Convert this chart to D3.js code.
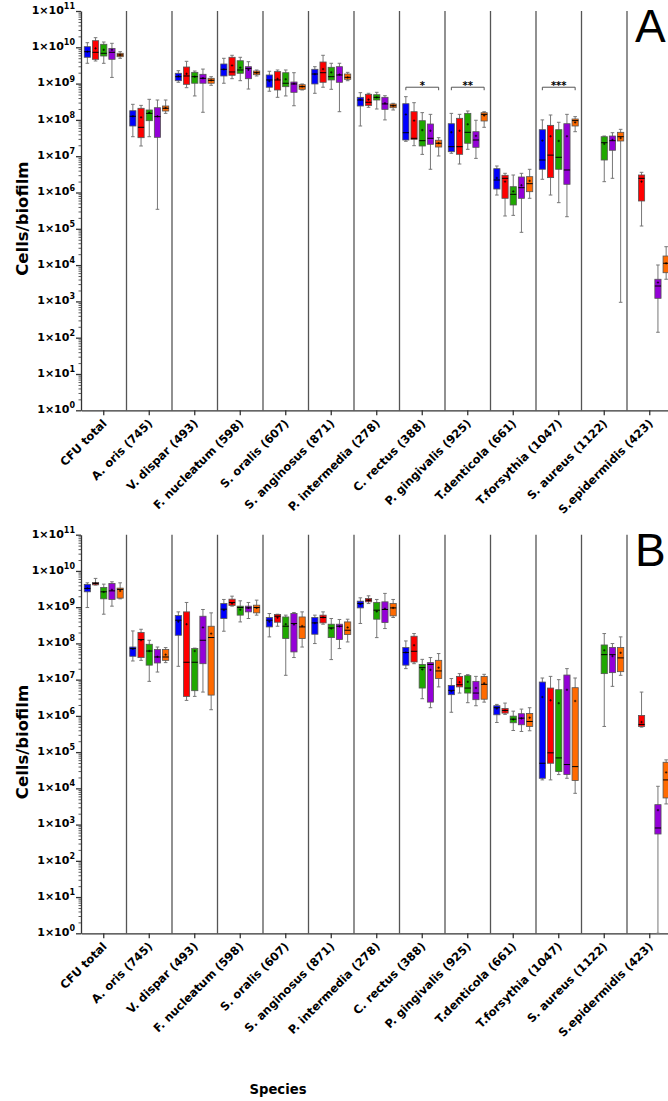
<!DOCTYPE html>
<html>
<head>
<meta charset="utf-8">
<script src="https://cdn.jsdelivr.net/npm/d3@7/dist/d3.min.js"></script>
<style>
body { margin: 0; background: #fff; }
svg { display: block; font-family: "DejaVu Sans", sans-serif; }
</style>
</head>
<body>
<div id="chart"></div>
<script>
const species = ["CFU total", "A. oris (745)", "V. dispar (493)", "F. nucleatum (598)", "S. oralis (607)",
    "S. anginosus (871)", "P. intermedia (278)", "C. rectus (388)", "P. gingivalis (925)", "T.denticola (661)",
    "T.forsythia (1047)", "S. aureus (1122)", "S.epidermidis (423)"];
const groups = ["blue", "red", "green", "purple", "orange"];
const groupColors = ["#0000ff", "#ff0000", "#1fa800", "#9400d8", "#ff6a00"];
const yTickExp = [0, 1, 2, 3, 4, 5, 6, 7, 8, 9, 10, 11];

// log10(cells/biofilm) per box: [min, q1, median, q3, max, mean]; null = no box
const aBlue = [
    [9.56, 9.725, 9.879, 10.017, 10.127, 9.88], [7.537, 7.832, 8.10, 8.253, 8.429, 8.10],
    [9.036, 9.08, 9.19, 9.284, 9.355, 9.20], [9.01, 9.21, 9.394, 9.54, 9.697, 9.39],
    [8.79, 8.90, 9.10, 9.237, 9.34, 9.07], [8.733, 8.99, 9.264, 9.394, 9.466, 9.26],
    [7.832, 8.383, 8.548, 8.622, 8.75, 8.56], [7.41, 7.446, 7.647, 8.446, 8.64, 8.15],
    [7.08, 7.124, 7.262, 7.895, 8.18, 7.66], [5.93, 6.096, 6.344, 6.656, 6.73, 6.40],
    [6.364, 6.64, 6.895, 7.73, 8.0, 7.43], null, null];
const aRed = [
    [9.623, 9.669, 9.862, 10.182, 10.265, 9.97], [7.281, 7.51, 7.796, 8.32, 8.40, 8.07],
    [8.887, 8.98, 9.21, 9.457, 9.614, 9.27], [9.135, 9.229, 9.32, 9.725, 9.78, 9.50],
    [8.622, 8.824, 9.10, 9.33, 9.375, 9.13], [8.90, 9.036, 9.30, 9.595, 9.78, 9.40],
    [8.347, 8.40, 8.485, 8.705, 8.733, 8.56], [7.29, 7.465, 7.493, 8.226, 8.474, 7.98],
    [6.785, 7.052, 7.262, 8.044, 8.153, 7.70], [5.353, 5.84, 6.391, 6.474, 6.529, 6.30],
    [5.93, 6.41, 7.03, 7.85, 8.135, 7.55], null,
    [5.077, 5.766, 6.39, 6.482, 6.556, 6.30]];
const aGreen = [
    [9.559, 9.76, 9.835, 10.083, 10.146, 9.93], [7.537, 7.978, 8.18, 8.273, 8.567, 8.20],
    [8.66, 9.01, 9.19, 9.31, 9.347, 9.19], [9.08, 9.284, 9.375, 9.63, 9.725, 9.44],
    [8.66, 8.915, 9.01, 9.30, 9.375, 9.12], [8.843, 9.10, 9.19, 9.449, 9.56, 9.31],
    [8.30, 8.548, 8.622, 8.694, 8.76, 8.62], [7.05, 7.281, 7.427, 7.978, 8.20, 7.72],
    [7.19, 7.356, 7.658, 8.18, 8.245, 7.88], [5.37, 5.656, 5.95, 6.16, 6.482, 6.03],
    [5.72, 6.64, 6.97, 7.73, 7.934, 7.42], [6.298, 6.895, 7.372, 7.537, 7.556, 7.34], null];
const aPurple = [
    [9.17, 9.669, 9.862, 9.97, 10.11, 9.93], [5.537, 7.52, 8.09, 8.336, 8.548, 8.10],
    [8.21, 9.01, 9.146, 9.256, 9.40, 9.15], [8.85, 9.135, 9.42, 9.466, 9.603, 9.38],
    [8.39, 8.76, 8.99, 9.044, 9.30, 9.00], [8.226, 9.036, 9.237, 9.466, 9.56, 9.25],
    [8.0, 8.29, 8.44, 8.622, 8.667, 8.46], [6.64, 7.328, 7.493, 7.887, 8.153, 7.70],
    [6.94, 7.245, 7.446, 7.675, 7.99, 7.56], [4.903, 5.84, 6.133, 6.427, 6.529, 6.20],
    [5.333, 6.226, 6.62, 7.895, 8.153, 7.55], [6.391, 7.163, 7.427, 7.556, 7.647, 7.45],
    [2.15, 3.085, 3.424, 3.61, 4.003, 3.52]];
const aOrange = [
    [9.697, 9.741, 9.788, 9.835, 9.879, 9.79], [8.18, 8.245, 8.32, 8.383, 8.548, 8.33],
    [8.953, 9.01, 9.09, 9.146, 9.19, 9.09], [9.21, 9.245, 9.30, 9.347, 9.375, 9.30],
    [8.824, 8.843, 8.915, 8.97, 8.99, 8.92], [9.08, 9.118, 9.173, 9.264, 9.31, 9.17],
    [8.273, 8.336, 8.39, 8.438, 8.457, 8.39], [7.006, 7.253, 7.356, 7.44, 7.51, 7.36],
    [7.796, 7.97, 8.153, 8.198, 8.226, 8.12], [5.84, 6.022, 6.243, 6.436, 6.639, 6.32],
    [7.675, 7.832, 7.98, 8.025, 8.09, 7.93], [2.975, 7.419, 7.537, 7.658, 7.74, 7.50],
    [3.61, 3.79, 4.05, 4.25, 4.507, 4.05]];

const bBlue = [
    [8.99, 9.424, 9.517, 9.628, 9.672, 9.52], [7.515, 7.645, 7.857, 7.90, 8.344, 7.85],
    [7.368, 8.225, 8.64, 8.77, 8.87, 8.60], [8.336, 8.687, 8.945, 9.10, 9.213, 8.92],
    [8.18, 8.455, 8.64, 8.715, 8.825, 8.60], [7.996, 8.253, 8.566, 8.715, 8.78, 8.56],
    [8.55, 8.98, 9.10, 9.166, 9.258, 9.08], [7.304, 7.40, 7.747, 7.885, 8.068, 7.75],
    [6.10, 6.585, 6.704, 6.842, 7.03, 6.68], [5.818, 6.03, 6.225, 6.28, 6.317, 6.20],
    [4.234, 4.278, 4.693, 6.934, 7.045, 6.52], null, null];
const bRed = [
    [9.61, 9.617, 9.655, 9.683, 9.794, 9.66], [7.533, 7.608, 8.106, 8.30, 8.39, 8.09],
    [6.427, 6.538, 7.48, 8.87, 9.13, 8.53], [9.028, 9.047, 9.13, 9.221, 9.304, 9.10],
    [8.474, 8.585, 8.75, 8.80, 8.806, 8.71], [8.53, 8.566, 8.715, 8.78, 8.87, 8.72],
    [9.10, 9.147, 9.194, 9.24, 9.313, 9.19], [7.44, 7.487, 7.783, 8.198, 8.272, 7.95],
    [6.63, 6.80, 6.86, 7.09, 7.166, 6.93], [6.04, 6.076, 6.15, 6.206, 6.353, 6.15],
    [4.234, 4.693, 4.98, 6.768, 7.09, 6.43], null,
    [5.69, 5.708, 5.764, 6.013, 6.657, 5.83]];
const bGreen = [
    [8.806, 9.23, 9.424, 9.545, 9.636, 9.42], [6.953, 7.40, 7.79, 7.976, 8.087, 7.79],
    [6.538, 6.695, 7.48, 7.857, 7.87, 7.79], [8.593, 8.78, 8.99, 9.028, 9.175, 8.93],
    [7.12, 8.134, 8.474, 8.73, 8.78, 8.53], [7.553, 8.16, 8.427, 8.53, 8.687, 8.41],
    [8.16, 8.668, 8.917, 9.13, 9.213, 8.88], [6.474, 6.768, 7.33, 7.42, 7.56, 7.28],
    [6.364, 6.63, 6.768, 7.11, 7.138, 6.94], [5.597, 5.81, 5.91, 5.993, 6.13, 5.90],
    [4.38, 4.463, 4.84, 6.723, 7.0, 6.35], [5.708, 7.166, 7.69, 7.957, 8.272, 7.81], null];
const bPurple = [
    [9.028, 9.213, 9.45, 9.655, 9.70, 9.48], [7.21, 7.46, 7.625, 7.83, 7.90, 7.63],
    [6.657, 7.44, 8.087, 8.75, 8.936, 8.44], [8.687, 8.87, 8.98, 9.028, 9.13, 8.98],
    [7.61, 7.765, 8.55, 8.825, 8.853, 8.52], [7.857, 8.106, 8.474, 8.53, 8.66, 8.47],
    [8.41, 8.576, 8.936, 9.147, 9.38, 8.96], [6.226, 6.38, 7.42, 7.47, 7.61, 7.27],
    [6.28, 6.447, 6.63, 6.953, 7.09, 6.77], [5.57, 5.755, 5.938, 6.06, 6.187, 5.93],
    [4.278, 4.38, 4.657, 7.127, 7.304, 6.72], [6.815, 7.193, 7.69, 7.89, 7.996, 7.65],
    [0, 2.74, 2.906, 3.55, 4.057, 3.40]];
const bOrange = [
    [9.23, 9.25, 9.49, 9.526, 9.672, 9.45], [7.47, 7.533, 7.625, 7.83, 7.885, 7.69],
    [6.17, 6.574, 8.162, 8.474, 8.843, 8.27], [8.78, 8.843, 8.99, 9.055, 9.194, 8.98],
    [7.90, 8.134, 8.455, 8.73, 8.87, 8.48], [8.04, 8.245, 8.364, 8.593, 8.668, 8.44],
    [8.715, 8.76, 8.98, 9.10, 9.213, 8.98], [6.80, 7.03, 7.24, 7.533, 7.72, 7.33],
    [6.38, 6.46, 6.87, 7.09, 7.147, 6.90], [5.589, 5.708, 5.846, 6.067, 6.225, 5.95],
    [3.863, 4.215, 4.60, 6.778, 7.045, 6.41], [7.12, 7.22, 7.60, 7.89, 8.18, 7.74],
    [3.57, 3.735, 4.233, 4.72, 4.786, 4.44]];

// significance brackets (panel A only), bracket level in log10
const aSigCats = ["C. rectus (388)", "P. gingivalis (925)", "T.forsythia (1047)"];
const aSigLabels = ["*", "**", "***"];
const aSigLevel = 8.9;

const width = 668, height = 1101;
const left = 81, band = 45.5;
const axisColor = "#333";

const svg = d3.select("#chart").append("svg")
    .attr("width", width)
    .attr("height", height);

const x = d3.scaleBand().domain(species).range([left, left + band * species.length]);
const xg = d3.scaleBand().domain(groups).range([-20.5, 20.5]);
const boxW = 6.2;
const cx = (cat, grp) => x(cat) + x.bandwidth() / 2 + xg(grp) + xg.bandwidth() / 2;

function drawPanel(top, bottom, series, letter, sig) {
    const y = d3.scaleLog().domain([1, 1e11]).range([bottom, top]);
    const g = svg.append("g");

    // category separators
    g.selectAll("line.sep")
        .data(species.slice(1))
        .join("line")
        .attr("class", "sep")
        .attr("x1", d => x(d)).attr("x2", d => x(d))
        .attr("y1", top).attr("y2", bottom)
        .attr("stroke", "#555").attr("stroke-width", 1.3);

    // y axis: minor + major ticks
    const minors = [];
    for (let e = 0; e < 11; e++) for (let k = 2; k < 10; k++) minors.push(k * Math.pow(10, e));
    g.append("g")
        .attr("transform", `translate(${left},0)`)
        .attr("color", axisColor)
        .call(d3.axisLeft(y).tickValues(minors).tickSize(2.5).tickFormat(""))
        .call(a => a.select(".domain").remove())
        .selectAll("line").attr("stroke-width", 0.8);

    g.append("g")
        .attr("transform", `translate(${left},0)`)
        .attr("color", axisColor)
        .call(d3.axisLeft(y).tickValues(yTickExp.map(e => Math.pow(10, e))).tickSize(5).tickSizeOuter(0).tickFormat(""))
        .call(a => a.selectAll("line, path").attr("stroke-width", 1.3));

    const yl = g.selectAll("text.ylab")
        .data(yTickExp)
        .join("text")
        .attr("class", "ylab")
        .attr("x", left - 6)
        .attr("y", d => y(Math.pow(10, d)) + 2.8)
        .attr("text-anchor", "end")
        .attr("font-weight", "bold")
        .attr("font-size", 11)
        .attr("fill", "#000");
    yl.append("tspan").text("1×10");
    yl.append("tspan").attr("dy", -4.8).attr("font-size", 8).text(d => d);

    // x axis
    g.append("g")
        .attr("transform", `translate(0,${bottom})`)
        .attr("color", axisColor)
        .call(d3.axisBottom(x).tickSize(5).tickSizeOuter(0).tickFormat(""))
        .call(a => a.selectAll("line, path").attr("stroke-width", 1.3));

    g.selectAll("text.xlab")
        .data(species)
        .join("text")
        .attr("class", "xlab")
        .attr("transform", d => `translate(${x(d) + x.bandwidth() / 2 + 1},${bottom + 11}) rotate(-45)`)
        .attr("text-anchor", "end")
        .attr("dy", "0.35em")
        .attr("font-weight", "bold")
        .attr("font-size", 11.5)
        .attr("fill", "#000")
        .text(d => d);

    // y title
    g.append("text")
        .attr("transform", `translate(28,${(top + bottom) / 2 + 8}) rotate(-90)`)
        .attr("text-anchor", "middle")
        .attr("font-weight", "bold")
        .attr("font-size", 16.5)
        .text("Cells/biofilm");

    // panel letter
    g.append("text")
        .attr("x", 635)
        .attr("y", top + 31)
        .attr("font-family", "Liberation Sans, Arial, sans-serif")
        .attr("font-size", 46)
        .text(letter);

    // boxes
    const rows = [];
    series.forEach((arr, si) => {
        arr.forEach((s, ci) => {
            if (s) rows.push({cat: species[ci], grp: groups[si], color: groupColors[si], v: s.map(e => Math.pow(10, e))});
        });
    });

    const box = g.selectAll("g.box")
        .data(rows)
        .join("g")
        .attr("class", "box")
        .attr("transform", d => `translate(${cx(d.cat, d.grp)},0)`);

    box.append("line")
        .attr("y1", d => y(d.v[0])).attr("y2", d => y(d.v[4]))
        .attr("stroke", "#777").attr("stroke-width", 1);
    box.selectAll("line.cap")
        .data(d => [d.v[0], d.v[4]])
        .join("line")
        .attr("class", "cap")
        .attr("x1", -1.8).attr("x2", 1.8)
        .attr("y1", d => y(d)).attr("y2", d => y(d))
        .attr("stroke", "#777").attr("stroke-width", 1);
    box.append("rect")
        .attr("x", -boxW / 2)
        .attr("width", boxW)
        .attr("y", d => y(d.v[3]))
        .attr("height", d => Math.max(1, y(d.v[1]) - y(d.v[3])))
        .attr("fill", d => d.color)
        .attr("stroke", "#555").attr("stroke-width", 0.8);
    box.append("line")
        .attr("x1", -boxW / 2).attr("x2", boxW / 2)
        .attr("y1", d => y(d.v[2])).attr("y2", d => y(d.v[2]))
        .attr("stroke", "#000").attr("stroke-width", 1);
    box.append("path")
        .attr("d", d => `M-1.2,${y(d.v[5])}h2.4M0,${y(d.v[5]) - 1.2}v2.4`)
        .attr("stroke", "#000").attr("stroke-width", 0.7);

    // significance brackets
    if (sig) {
        const by = y(Math.pow(10, sig.level));
        const br = g.selectAll("g.sig")
            .data(sig.cats.map((c, i) => ({cat: c, label: sig.labels[i]})))
            .join("g")
            .attr("class", "sig");
        br.append("path")
            .attr("d", d => {
                const x0 = cx(d.cat, groups[0]), x1 = cx(d.cat, groups[groups.length - 1]);
                return `M${x0},${by + 3}V${by}H${x1}V${by + 3}`;
            })
            .attr("fill", "none").attr("stroke", "#555").attr("stroke-width", 1);
        br.append("text")
            .attr("x", d => x(d.cat) + x.bandwidth() / 2)
            .attr("y", by + 1.5)
            .attr("text-anchor", "middle")
            .attr("font-weight", "bold")
            .attr("font-size", 10)
            .text(d => d.label);
    }
}

drawPanel(11, 410.3, [aBlue, aRed, aGreen, aPurple, aOrange], "A",
    {cats: aSigCats, labels: aSigLabels, level: aSigLevel});
drawPanel(534.7, 933.3, [bBlue, bRed, bGreen, bPurple, bOrange], "B", null);

svg.append("text")
    .attr("x", 278)
    .attr("y", 1094)
    .attr("text-anchor", "middle")
    .attr("font-weight", "bold")
    .attr("font-size", 13.2)
    .text("Species");
</script>
</body>
</html>
